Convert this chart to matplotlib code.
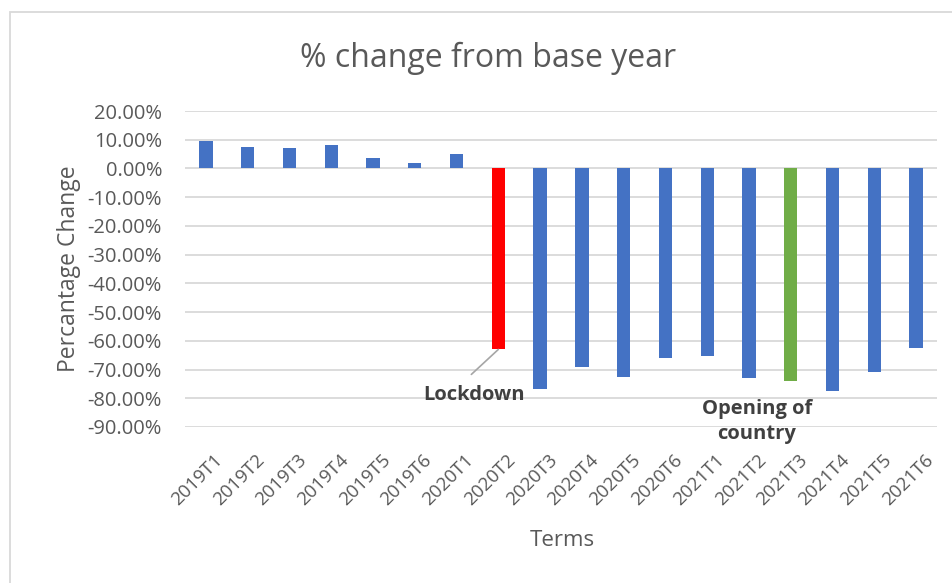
import matplotlib.pyplot as plt
from matplotlib.patches import Rectangle
from matplotlib.ticker import FuncFormatter
from matplotlib.transforms import ScaledTranslation

plt.rcParams['font.family'] = ['Open Sans', 'DejaVu Sans']

terms = ['2019T1', '2019T2', '2019T3', '2019T4', '2019T5', '2019T6',
         '2020T1', '2020T2', '2020T3', '2020T4', '2020T5', '2020T6',
         '2021T1', '2021T2', '2021T3', '2021T4', '2021T5', '2021T6']
pct_change = [9.4, 7.3, 7.1, 8.1, 3.6, 1.9,
              5.0, -63.0, -76.6, -69.1, -72.6, -66.0,
              -65.4, -73.1, -74.1, -77.3, -71.0, -62.4]
lockdown_term = '2020T2'
opening_term = '2021T3'

blue = '#4472C4'
red = '#FF0000'
green = '#70AD47'
grey_text = '#595959'

colors = []
for t in terms:
    if t == lockdown_term:
        colors.append(red)
    elif t == opening_term:
        colors.append(green)
    else:
        colors.append(blue)

fig = plt.figure(figsize=(9.53, 5.83), dpi=100)
ax = fig.add_axes([185 / 953, 1 - 427 / 583, (937 - 185) / 953, (427 - 111) / 583])

x = list(range(len(terms)))
ax.bar(x, pct_change, width=0.32, color=colors, zorder=3)

ax.set_xlim(-0.5, len(terms) - 0.5)
ax.set_ylim(-90, 20)
ax.set_yticks(range(-90, 21, 10))
ax.yaxis.set_major_formatter(FuncFormatter(lambda v, p: f'{v:.2f}%'))
ax.grid(axis='y', color='#D9D9D9', linewidth=1.3, zorder=0)
for s in ax.spines.values():
    s.set_visible(False)

ax.set_xticks(x)
ax.set_xticklabels(terms, rotation=45, ha='right', va='top', rotation_mode='anchor')
ax.tick_params(axis='x', length=0, pad=17, labelsize=13.5, labelcolor=grey_text)
ax.tick_params(axis='y', length=0, pad=16.5, labelsize=14.5, labelcolor=grey_text)
# nudge the slanted labels a little to the right of each bar
shift = ScaledTranslation(8 / 100, 0, fig.dpi_scale_trans)
for lbl in ax.get_xticklabels():
    lbl.set_transform(lbl.get_transform() + shift)

ax.set_ylabel('Percantage Change', fontsize=16.5, color=grey_text, labelpad=5)
fig.text(562 / 953, 1 - 541 / 583, 'Terms', ha='center', va='center',
         fontsize=16, color=grey_text)
fig.text(488 / 953, 1 - 58 / 583, '% change from base year', ha='center', va='center',
         fontsize=23, color=grey_text)

# callouts for the two highlighted terms
i_lock = terms.index(lockdown_term)
ax.annotate('', xy=(i_lock, pct_change[i_lock]), xytext=(-27, -25),
            textcoords='offset pixels',
            arrowprops=dict(arrowstyle='-', color='#A6A6A6', lw=1.2,
                            shrinkA=0, shrinkB=0))
ax.annotate('Lockdown', xy=(i_lock, pct_change[i_lock]), xytext=(-24, -46),
            textcoords='offset pixels', ha='center', va='center',
            fontsize=14.5, fontweight='bold', color='#404040')

i_open = terms.index(opening_term)
ax.annotate('Opening of\ncountry', xy=(i_open, pct_change[i_open]), xytext=(-34, -40),
            textcoords='offset pixels', ha='center', va='center',
            fontsize=14.5, fontweight='bold', color='#404040', linespacing=1.3)

# chart frame
fig.patches.append(Rectangle((10 / 953, -0.1), 1.2, 1 - 12 / 583 + 0.1,
                             transform=fig.transFigure, fill=False,
                             edgecolor='#D9D9D9', linewidth=1.3))

fig.savefig('out.png', dpi=100)
